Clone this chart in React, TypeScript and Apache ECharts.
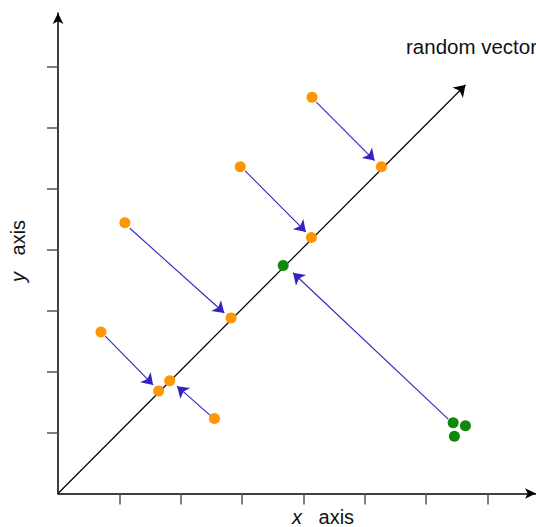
import React, { useEffect, useRef } from "react";
import * as echarts from "echarts";

const xTickValues = [1, 2, 3, 4, 5, 6, 7];
const yTickValues = [1, 2, 3, 4, 5, 6, 7];
const xMax = 7.79;
const yMax = 7.88;

const orangePoints = [
  [1.09, 4.44],
  [2.97, 5.36],
  [4.14, 6.5],
  [5.27, 5.36],
  [4.13, 4.2],
  [2.82, 2.88],
  [0.7, 2.65],
  [1.64, 1.68],
  [1.82, 1.85],
  [2.55, 1.23],
];

const greenPoints = [
  [3.67, 3.74],
  [6.44, 1.16],
  [6.64, 1.11],
  [6.46, 0.94],
];

const vectorLine = [
  [0, 0],
  [6.64, 6.7],
];

const projectionArrows = [
  [[0.77, 2.58], [1.55, 1.78]],
  [[1.17, 4.35], [2.71, 2.96]],
  [[3.05, 5.29], [4.04, 4.29]],
  [[4.21, 6.42], [5.16, 5.46]],
  [[2.495, 1.27], [1.94, 1.76]],
  [[6.36, 1.22], [3.83, 3.62]],
];

const vectorLabel = "random vector";
const xName = "x";
const yName = "y";
const axisWord = "axis";

const FONT = "'Liberation Sans', Arial, Helvetica, sans-serif";

export default function App() {
  const ref = useRef<HTMLDivElement>(null);

  useEffect(() => {
    if (!ref.current) return;
    const chart = echarts.init(ref.current, null, { renderer: "svg" });
    const option = {
      animation: false,
      grid: { left: 58, right: 0, top: 13, bottom: 33.5 },
      xAxis: {
        type: "value",
        min: 0,
        max: xMax,
        interval: 1,
        axisLine: {
          show: true,
          lineStyle: { color: "#000", width: 1.5 },
          symbol: ["none", "arrow"],
          symbolSize: [8, 11],
        },
        axisTick: {
          show: true,
          customValues: xTickValues,
          length: 11,
          lineStyle: { color: "#555", width: 1.5 },
        },
        axisLabel: { show: false },
        splitLine: { show: false },
      },
      yAxis: {
        type: "value",
        min: 0,
        max: yMax,
        interval: 1,
        axisLine: {
          show: true,
          lineStyle: { color: "#000", width: 1.5 },
          symbol: ["none", "arrow"],
          symbolSize: [8, 11],
        },
        axisTick: {
          show: true,
          customValues: yTickValues,
          length: 11,
          lineStyle: { color: "#555", width: 1.5 },
        },
        axisLabel: { show: false },
        splitLine: { show: false },
      },
      graphic: [
        {
          type: "text",
          left: 406,
          top: 36,
          style: {
            text: vectorLabel,
            font: `20.5px ${FONT}`,
            fill: "#111",
          },
        },
        {
          type: "text",
          x: 323,
          y: 517,
          style: {
            text: `{i|${xName}}   ${axisWord}`,
            align: "center",
            verticalAlign: "middle",
            font: `20px ${FONT}`,
            fill: "#111",
            rich: {
              i: { fontStyle: "italic", fontSize: 20, fontFamily: FONT, fill: "#111" },
            },
          },
        },
        {
          type: "text",
          x: 18,
          y: 251,
          rotation: Math.PI / 2,
          style: {
            text: `{i|${yName}}   ${axisWord}`,
            align: "center",
            verticalAlign: "middle",
            font: `20px ${FONT}`,
            fill: "#111",
            rich: {
              i: { fontStyle: "italic", fontSize: 20, fontFamily: FONT, fill: "#111" },
            },
          },
        },
      ],
      series: [
        {
          type: "lines",
          coordinateSystem: "cartesian2d",
          symbol: ["none", "arrow"],
          symbolSize: [9, 11],
          lineStyle: { color: "#000", width: 1.2, opacity: 1, curveness: 0 },
          data: [{ coords: vectorLine }],
          z: 2,
        },
        {
          type: "lines",
          coordinateSystem: "cartesian2d",
          symbol: ["none", "arrow"],
          symbolSize: [9, 11],
          lineStyle: { color: "#3324c0", width: 1.1, opacity: 1, curveness: 0 },
          data: projectionArrows.map((c) => ({ coords: c })),
          z: 2,
        },
        {
          type: "scatter",
          symbol: "circle",
          symbolSize: 11,
          itemStyle: { color: "#ff9500", opacity: 1 },
          data: orangePoints,
          z: 3,
        },
        {
          type: "scatter",
          symbol: "circle",
          symbolSize: 11,
          itemStyle: { color: "#0b8a0b", opacity: 1 },
          data: greenPoints,
          z: 3,
        },
      ],
    };
    chart.setOption(option as any);
    return () => chart.dispose();
  }, []);

  return (
    <div
      ref={ref}
      style={{ position: "absolute", left: 0, top: 0, width: 536, height: 527 }}
    />
  );
}
